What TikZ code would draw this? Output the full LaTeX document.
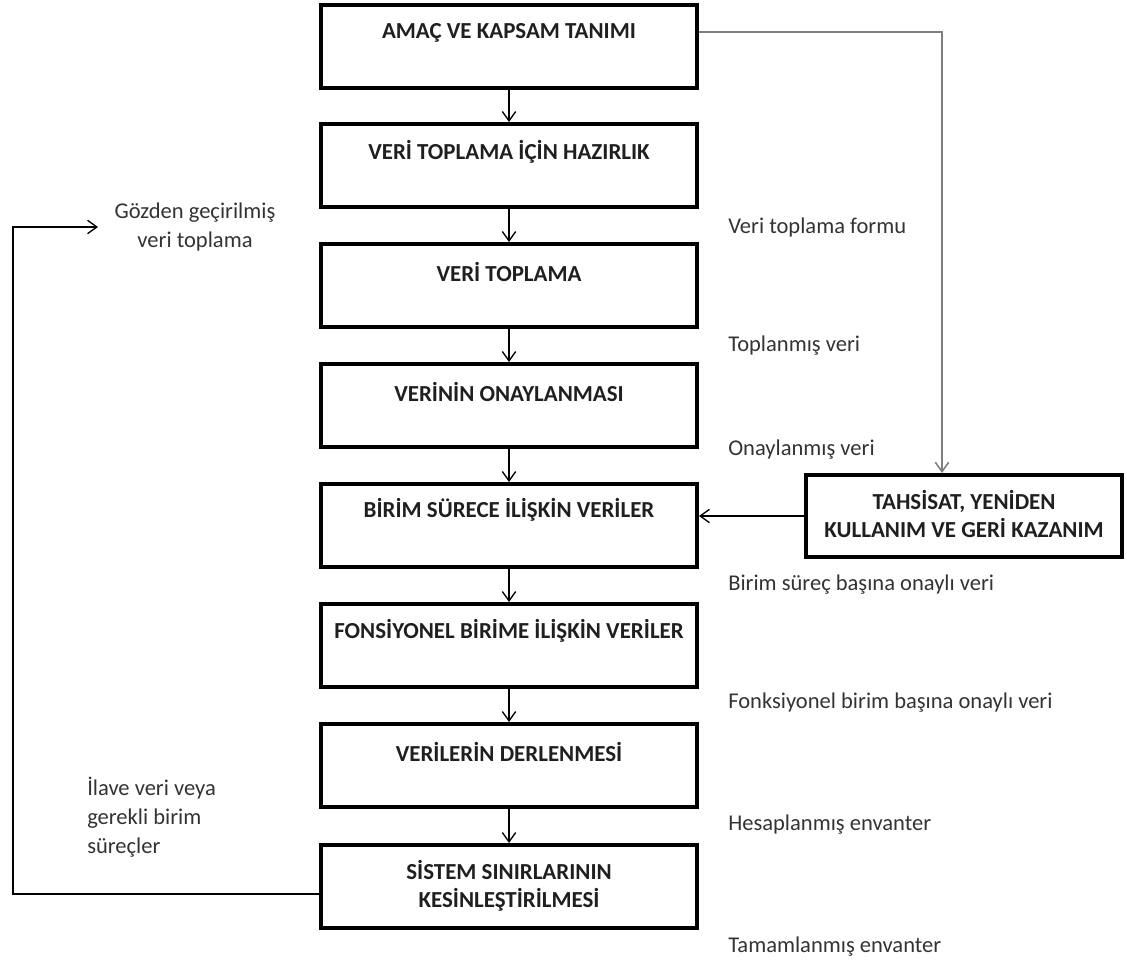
\documentclass[tikz,border=0pt]{standalone}
\usepackage{fontspec}
\setmainfont{Carlito}
\usetikzlibrary{arrows.meta,calc}
\definecolor{inkgray}{HTML}{1F1F1F}
\definecolor{notegray}{HTML}{333333}
\definecolor{feedgray}{HTML}{7F7F7F}
\begin{document}
\begin{tikzpicture}[x=0.75pt,y=-0.75pt,
  stage/.style={draw=black,line width=3pt,minimum width=282pt,minimum height=62.25pt,inner sep=0pt},
  sidebox/.style={draw=black,line width=3pt,minimum width=237pt,minimum height=61.5pt,inner sep=0pt},
  stagetext/.style={font=\bfseries\fontsize{17.2}{21}\selectfont,text=inkgray,align=center,inner sep=0pt},
  note/.style={font=\fontsize{16.9}{21.75}\selectfont,text=notegray,inner sep=0pt},
  flow/.style={draw=black,line width=1pt,-{Straight Barb[length=7pt,width=10pt,line width=1pt]}},
  feed/.style={draw=feedgray,line width=1.8pt,-{Straight Barb[length=7pt,width=10pt,line width=1.2pt]}}]

\useasboundingbox (0,0) rectangle (1127,963);

% main column of stages
\node[stage] (s1) at (509,46.5) {};
\node[stage] (s2) at (509,165.5) {};
\node[stage] (s3) at (509,285.5) {};
\node[stage] (s4) at (509,405.5) {};
\node[stage] (s5) at (509,525.5) {};
\node[stage] (s6) at (509,645.5) {};
\node[stage] (s7) at (509,765.5) {};
\node[stage] (s8) at (509,886.5) {};

\node[stagetext] (t1) at ($(s1.north)+(0,30)$) {AMAÇ VE KAPSAM TANIMI};
\node[stagetext] (t2) at ($(s2.north)+(0,30)$) {VERİ TOPLAMA İÇİN HAZIRLIK};
\node[stagetext] (t3) at ($(s3.north)+(0,30)$) {VERİ TOPLAMA};
\node[stagetext] (t4) at ($(s4.north)+(0,30)$) {VERİNİN ONAYLANMASI};
\node[stagetext] (t5) at ($(s5.north)+(0,28)$) {BİRİM SÜRECE İLİŞKİN VERİLER};
\node[stagetext] (t6) at ($(s6.north)+(0,29)$) {FONSİYONEL BİRİME İLİŞKİN VERİLER};
\node[stagetext] (t7) at ($(s7.north)+(0,30)$) {VERİLERİN DERLENMESİ};
\node[stagetext] (t8) at ($(s8.north)+(0,43)$) {SİSTEM SINIRLARININ\\KESİNLEŞTİRİLMESİ};

% allocation box on the right
\node[sidebox] (rb) at (964,516) {};
\node[stagetext] (rt) at (964,514) {TAHSİSAT, YENİDEN\\KULLANIM VE GERİ KAZANIM};

% arrows down the column
\draw[flow] (s1.south) -- (s2.north);
\draw[flow] (s2.south) -- (s3.north);
\draw[flow] (s3.south) -- (s4.north);
\draw[flow] (s4.south) -- (s5.north);
\draw[flow] (s5.south) -- (s6.north);
\draw[flow] (s6.south) -- (s7.north);
\draw[flow] (s7.south) -- (s8.north);

% scope definition feeding the allocation step
\coordinate (fbend) at (942,32);
\draw[feed] (s1.east |- fbend) -- (fbend) -- (fbend |- rb.north);
\draw[flow] (rb.west) -- (rb.west -| s5.east);

% feedback loop for revised data collection
\coordinate (lbot) at (13,894);
\coordinate (ltop) at (13,227);
\coordinate (lend) at (98,227);
\draw[flow] (s8.west |- lbot) -- (lbot) -- (ltop) -- (lend);

% notes beside the flow
\node[note,align=center] (n0) at (195,227) {Gözden geçirilmiş\\veri toplama};
\node[note,align=left,anchor=north west] (n9) at (87,777) {İlave veri veya\\gerekli birim\\süreçler};

\node[note,anchor=west] (n1) at (728,227) {Veri toplama formu};
\node[note,anchor=west] (n2) at (728,346) {Toplanmış veri};
\node[note,anchor=west] (n3) at (728,450) {Onaylanmış veri};
\node[note,anchor=west] (n4) at (728,585) {Birim süreç başına onaylı veri};
\node[note,anchor=west] (n5) at (728,703) {Fonksiyonel birim başına onaylı veri};
\node[note,anchor=west] (n6) at (728,825) {Hesaplanmış envanter};
\node[note,anchor=west] (n7) at (728,947) {Tamamlanmış envanter};

\end{tikzpicture}
\end{document}
